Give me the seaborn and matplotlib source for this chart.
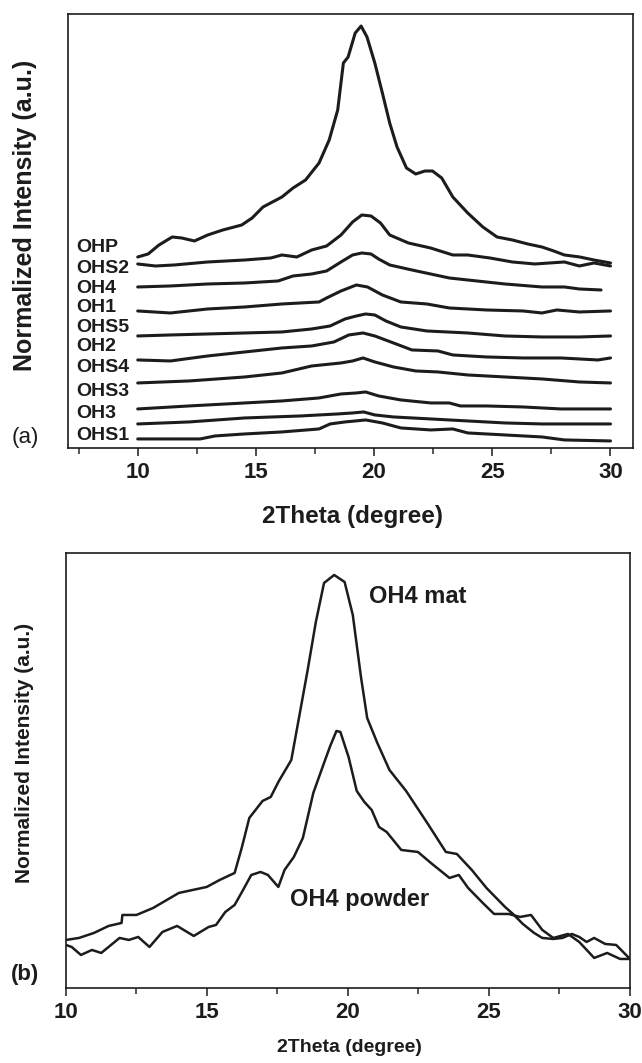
import pandas as pd
import matplotlib.pyplot as plt
import seaborn as sns
from matplotlib.ticker import MultipleLocator

# ---- panel (a): stacked XRD patterns (intensity in arbitrary units, offset) ----
samples_a = ["OHP", "OHS2", "OH4", "OH1", "OHS5", "OH2", "OHS4", "OHS3", "OH3", "OHS1"]

ohp_x = [10.0, 10.44, 10.9, 11.46, 11.86, 12.4, 12.96, 13.6, 14.4, 14.84, 15.3, 16.1, 16.57, 17.1,
         17.67, 18.1, 18.46, 18.7, 18.9, 19.2, 19.45, 19.7, 20.03, 20.35, 20.66, 20.97, 21.37, 21.76,
         22.15, 22.47, 22.86, 23.33, 23.96, 24.6, 25.2, 25.85, 26.5, 27.1, 27.6, 28.05, 28.7, 29.3, 30.0]
ohp_y = [190, 193, 202, 210, 209, 206, 212, 217, 222, 229, 240, 250, 259, 267,
         284, 307, 337, 384, 390, 414, 421, 410, 384, 354, 324, 300, 279, 273,
         276, 276, 269, 250, 234, 220, 210, 207, 203, 200, 196, 192, 190, 187, 184]

ohs2_x = [10.0, 10.75, 11.54, 12.96, 14.53, 15.63, 16.1, 16.73, 17.36, 17.99, 18.6, 19.09, 19.48, 19.87,
          20.27, 20.66, 21.45, 22.39, 23.33, 23.96, 24.9, 25.85, 26.8, 27.42, 28.05, 28.68, 29.3, 30.0]
ohs2_y = [183, 181, 182, 185, 187, 189, 192, 190, 197, 201, 212, 225, 232, 231,
          224, 212, 204, 199, 192, 192, 189, 185, 183, 184, 185, 181, 184, 181]

oh4_x = [10.0, 11.38, 12.96, 14.53, 15.94, 16.57, 17.36, 17.99, 18.6, 19.09, 19.48, 19.87, 20.19,
         20.66, 21.6, 23.18, 23.96, 25.53, 27.1, 28.05, 28.68, 29.6]
oh4_y = [160, 161, 163, 164, 166, 171, 173, 176, 185, 192, 194, 193, 188,
         182, 177, 169, 167, 163, 160, 160, 158, 157]

oh1_x = [10.0, 11.38, 12.96, 14.53, 16.1, 17.67, 17.99, 18.6, 19.25, 19.72, 20.35, 21.13, 22.23,
         23.18, 24.75, 26.3, 27.1, 27.73, 28.68, 30.0]
oh1_y = [136, 134, 138, 140, 143, 145, 149, 156, 162, 160, 152, 145, 143,
         139, 137, 136, 134, 137, 135, 136]

ohs5_x = [10.0, 11.38, 12.96, 14.53, 16.1, 17.36, 18.14, 18.77, 19.25, 19.64, 20.03, 20.5, 21.13,
          22.23, 23.96, 25.53, 27.1, 28.68, 30.0]
ohs5_y = [111, 112, 113, 114, 115, 118, 121, 128, 131, 133, 132, 126, 120,
          116, 114, 111, 110, 110, 111]

oh2_x = [10.0, 11.38, 12.96, 14.53, 16.1, 17.36, 18.3, 18.93, 19.53, 20.03, 20.82, 21.6, 22.7,
         23.33, 24.75, 26.3, 27.9, 29.47, 30.0]
oh2_y = [87, 86, 91, 95, 99, 101, 105, 112, 114, 111, 104, 97, 96,
         92, 90, 89, 89, 87, 89]

ohs4_x = [10.0, 12.17, 14.53, 16.1, 17.36, 18.6, 19.09, 19.53, 20.03, 20.82, 21.76, 22.7, 23.96,
          25.53, 27.1, 28.68, 30.0]
ohs4_y = [64, 66, 70, 74, 81, 84, 86, 89, 85, 80, 76, 75, 72,
          70, 68, 65, 64]

ohs3_x = [10.0, 12.17, 14.53, 16.1, 17.67, 18.6, 19.25, 19.64, 20.19, 21.13, 22.4, 23.18, 23.65,
          24.75, 26.3, 27.9, 30.0]
ohs3_y = [38, 41, 44, 46, 49, 53, 54, 55, 51, 47, 44, 44, 41,
          41, 40, 38, 38]

oh3_x = [10.0, 12.17, 14.53, 16.89, 18.46, 19.09, 19.56, 20.03, 20.82, 22.4, 23.96, 25.53, 27.1, 30.0]
oh3_y = [23, 25, 29, 31, 33, 34, 35, 32, 30, 28, 26, 24, 23, 23]

ohs1_x = [10.0, 11.38, 12.64, 13.27, 14.53, 16.1, 17.67, 18.14, 18.77, 19.64, 20.35, 21.13, 22.4,
          23.33, 23.96, 25.53, 27.1, 28.05, 30.0]
ohs1_y = [8, 8, 8, 11, 13, 15, 18, 23, 25, 27, 24, 19, 17,
          18, 14, 12, 10, 7, 6]

# label heights of the sample names (same order as samples_a)
label_y_a = [199, 178, 158, 139, 119, 100, 79, 55, 33, 11]

# ---- panel (b): OH4 mat vs powder ----
mat_x = [10.0, 10.46, 10.99, 11.51, 11.97, 12.0, 12.5, 13.09, 14.0, 14.99, 15.45, 15.98, 16.24, 16.5,
         16.97, 17.26, 17.55, 17.99, 18.28, 18.57, 18.86, 19.15, 19.51, 19.88, 20.17, 20.46, 20.68,
         21.04, 21.47, 22.06, 22.81, 23.47, 23.86, 24.39, 24.91, 25.57, 25.85, 26.2, 26.6, 26.89,
         27.28, 27.6, 27.94, 28.2, 28.46, 28.73, 29.12, 29.51, 30.0]
mat_y = [48, 50, 55, 62, 65, 73, 73, 80, 95, 101, 108, 115, 141, 170,
         187, 191, 207, 228, 273, 318, 366, 405, 413, 406, 373, 311, 270,
         245, 218, 197, 165, 136, 134, 118, 100, 81, 74, 64, 55, 50,
         49, 50, 54, 51, 46, 50, 44, 43, 29]

powder_x = [10.0, 10.2, 10.53, 10.92, 11.25, 11.51, 11.9, 12.23, 12.56, 12.96, 13.42, 13.94, 14.53,
            15.06, 15.32, 15.65, 15.98, 16.24, 16.57, 16.9, 17.16, 17.53, 17.75, 18.08, 18.4, 18.77,
            19.15, 19.37, 19.59, 19.73, 20.02, 20.31, 20.58, 20.84, 21.1, 21.37, 21.89, 22.48, 22.94,
            23.6, 23.93, 24.26, 24.78, 25.18, 25.7, 26.1, 26.49, 26.89, 27.28, 27.8, 28.2, 28.73,
            29.19, 29.65, 30.0]
powder_y = [43, 41, 33, 38, 35, 41, 50, 48, 51, 41, 56, 62, 52,
            61, 63, 76, 83, 96, 113, 116, 113, 101, 118, 131, 150, 195,
            225, 242, 257, 256, 231, 197, 186, 178, 161, 156, 138, 136, 125,
            110, 113, 100, 85, 74, 74, 71, 73, 58, 50, 54, 46, 30,
            35, 29, 29]

xs_a = [ohp_x, ohs2_x, oh4_x, oh1_x, ohs5_x, oh2_x, ohs4_x, ohs3_x, oh3_x, ohs1_x]
ys_a = [ohp_y, ohs2_y, oh4_y, oh1_y, ohs5_y, oh2_y, ohs4_y, ohs3_y, oh3_y, ohs1_y]

frames = []
for name, xv, yv in zip(samples_a, xs_a, ys_a):
    frames.append(pd.DataFrame({"two_theta": xv, "intensity": yv, "sample": name}))
df_a = pd.concat(frames, ignore_index=True)

df_b = pd.concat([
    pd.DataFrame({"two_theta": mat_x, "intensity": mat_y, "sample": "OH4 mat"}),
    pd.DataFrame({"two_theta": powder_x, "intensity": powder_y, "sample": "OH4 powder"}),
], ignore_index=True)

sns.set_theme(style="ticks")
plt.rcParams["font.family"] = ["Liberation Sans", "DejaVu Sans"]
ink = "#1c1c1c"

fig = plt.figure(figsize=(6.42, 10.63), dpi=100)
ax_a = fig.add_axes([0.1059, 0.5786, 0.880, 0.4082])
ax_b = fig.add_axes([0.1028, 0.0706, 0.8785, 0.4092])

sns.lineplot(data=df_a, x="two_theta", y="intensity", hue="sample", estimator=None,
             palette=[ink] * len(samples_a), linewidth=2.2, legend=False, ax=ax_a)
sns.lineplot(data=df_b, x="two_theta", y="intensity", hue="sample", estimator=None,
             palette=[ink, ink], linewidth=1.8, legend=False, ax=ax_b)

# panel (a) styling
ax_a.set_xlim(7.05, 30.95)
ax_a.set_ylim(-1, 433)
for name, ly in zip(samples_a, label_y_a):
    ax_a.text(7.38, ly, name, ha="left", va="center", fontsize=14, fontweight="bold", color=ink)
ax_a.text(0.504, -0.159, "2Theta (degree)", transform=ax_a.transAxes, ha="center", va="center",
          fontsize=17.5, fontweight="bold", color=ink)
ax_a.text(-0.076, 0.537, "Normalized Intensity (a.u.)", transform=ax_a.transAxes, rotation=90,
          ha="center", va="center", fontsize=18, fontweight="bold", color=ink)
ax_a.text(-0.076, 0.025, "(a)", transform=ax_a.transAxes, ha="center", va="center",
          fontsize=16, color=ink)

# panel (b) styling
ax_b.set_xlim(10, 30)
ax_b.set_ylim(0, 435)
ax_b.text(22.47, 391, "OH4 mat", ha="center", va="center", fontsize=17,
          fontweight="bold", color=ink)
ax_b.text(20.4, 88, "OH4 powder", ha="center", va="center", fontsize=17,
          fontweight="bold", color=ink)
ax_b.text(0.502, -0.138, "2Theta (degree)", transform=ax_b.transAxes, ha="center", va="center",
          fontsize=14, fontweight="bold", color=ink)
ax_b.text(-0.0727, 0.540, "Normalized Intensity (a.u.)", transform=ax_b.transAxes, rotation=90,
          ha="center", va="center", fontsize=15, fontweight="bold", color=ink)
ax_b.text(-0.0727, 0.030, "(b)", transform=ax_b.transAxes, ha="center", va="center",
          fontsize=16, fontweight="bold", color=ink)

for ax in (ax_a, ax_b):
    ax.set_xlabel("")
    ax.set_ylabel("")
    ax.set_yticks([])
    ax.xaxis.set_major_locator(MultipleLocator(5))
    ax.xaxis.set_minor_locator(MultipleLocator(2.5))
    ax.tick_params(axis="x", which="major", length=6, width=1.1, direction="out", pad=4,
                   labelsize=16, colors=ink)
    ax.tick_params(axis="x", which="minor", length=4, width=1.1, direction="out")
    for lab in ax.get_xticklabels():
        lab.set_fontweight("bold")
    for sp in ax.spines.values():
        sp.set_visible(True)
        sp.set_color(ink)
        sp.set_linewidth(1.2)

fig.savefig("out.png", dpi=100)
